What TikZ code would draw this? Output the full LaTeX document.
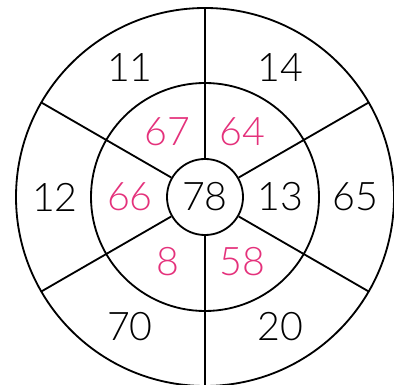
\documentclass[tikz,border=0pt]{standalone}
\usepackage{fontspec}
\setmainfont{Lato}[UprightFont=* Light]
\usetikzlibrary{positioning}
\definecolor{zielpink}{HTML}{E4317B}
\tikzset{
  ring/.style={draw=black,line width=1.3pt},
  spoke/.style={draw=black,line width=1.3pt},
  hub/.style={circle,draw=black,line width=1.3pt,inner sep=0pt,
              minimum size=1.9cm},
  num/.style={font=\fontsize{28}{30}\selectfont,inner sep=0pt,text=black},
  pnum/.style={num,text=zielpink},
}
\begin{document}
\begin{tikzpicture}[x=0.025cm,y=0.025cm]
\useasboundingbox (-205,-188) rectangle (189,197);
  % ringe
  \draw[ring] (0,0) circle[radius=114];
  \draw[ring] (0,0) circle[radius=189];
  \node[hub,num] (mid) at (0,0) {78};
  % speichen
  \foreach \a in {30,90,...,330} {
    \coordinate (rim\a) at (\a:189);
    \draw[spoke] (mid.\a) -- (rim\a);
  }
  % aussen
  \node[num] (o0) at (0:150) {65};
  \node[num] (o60) at (60:150) {14};
  \node[num] (o120) at (120:150) {11};
  \node[num] (o180) at (180:150) {12};
  \node[num] (o240) at (240:150) {70};
  \node[num] (o300) at (300:150) {20};
  % mitte
  \node[num] (m0) at (0:75) {13};
  \node[pnum] (m60) at (60:75) {64};
  \node[pnum] (m120) at (120:75) {67};
  \node[pnum] (m180) at (180:75) {66};
  \node[pnum] (m240) at (240:75) {8};
  \node[pnum] (m300) at (300:75) {58};
\end{tikzpicture}
\end{document}
